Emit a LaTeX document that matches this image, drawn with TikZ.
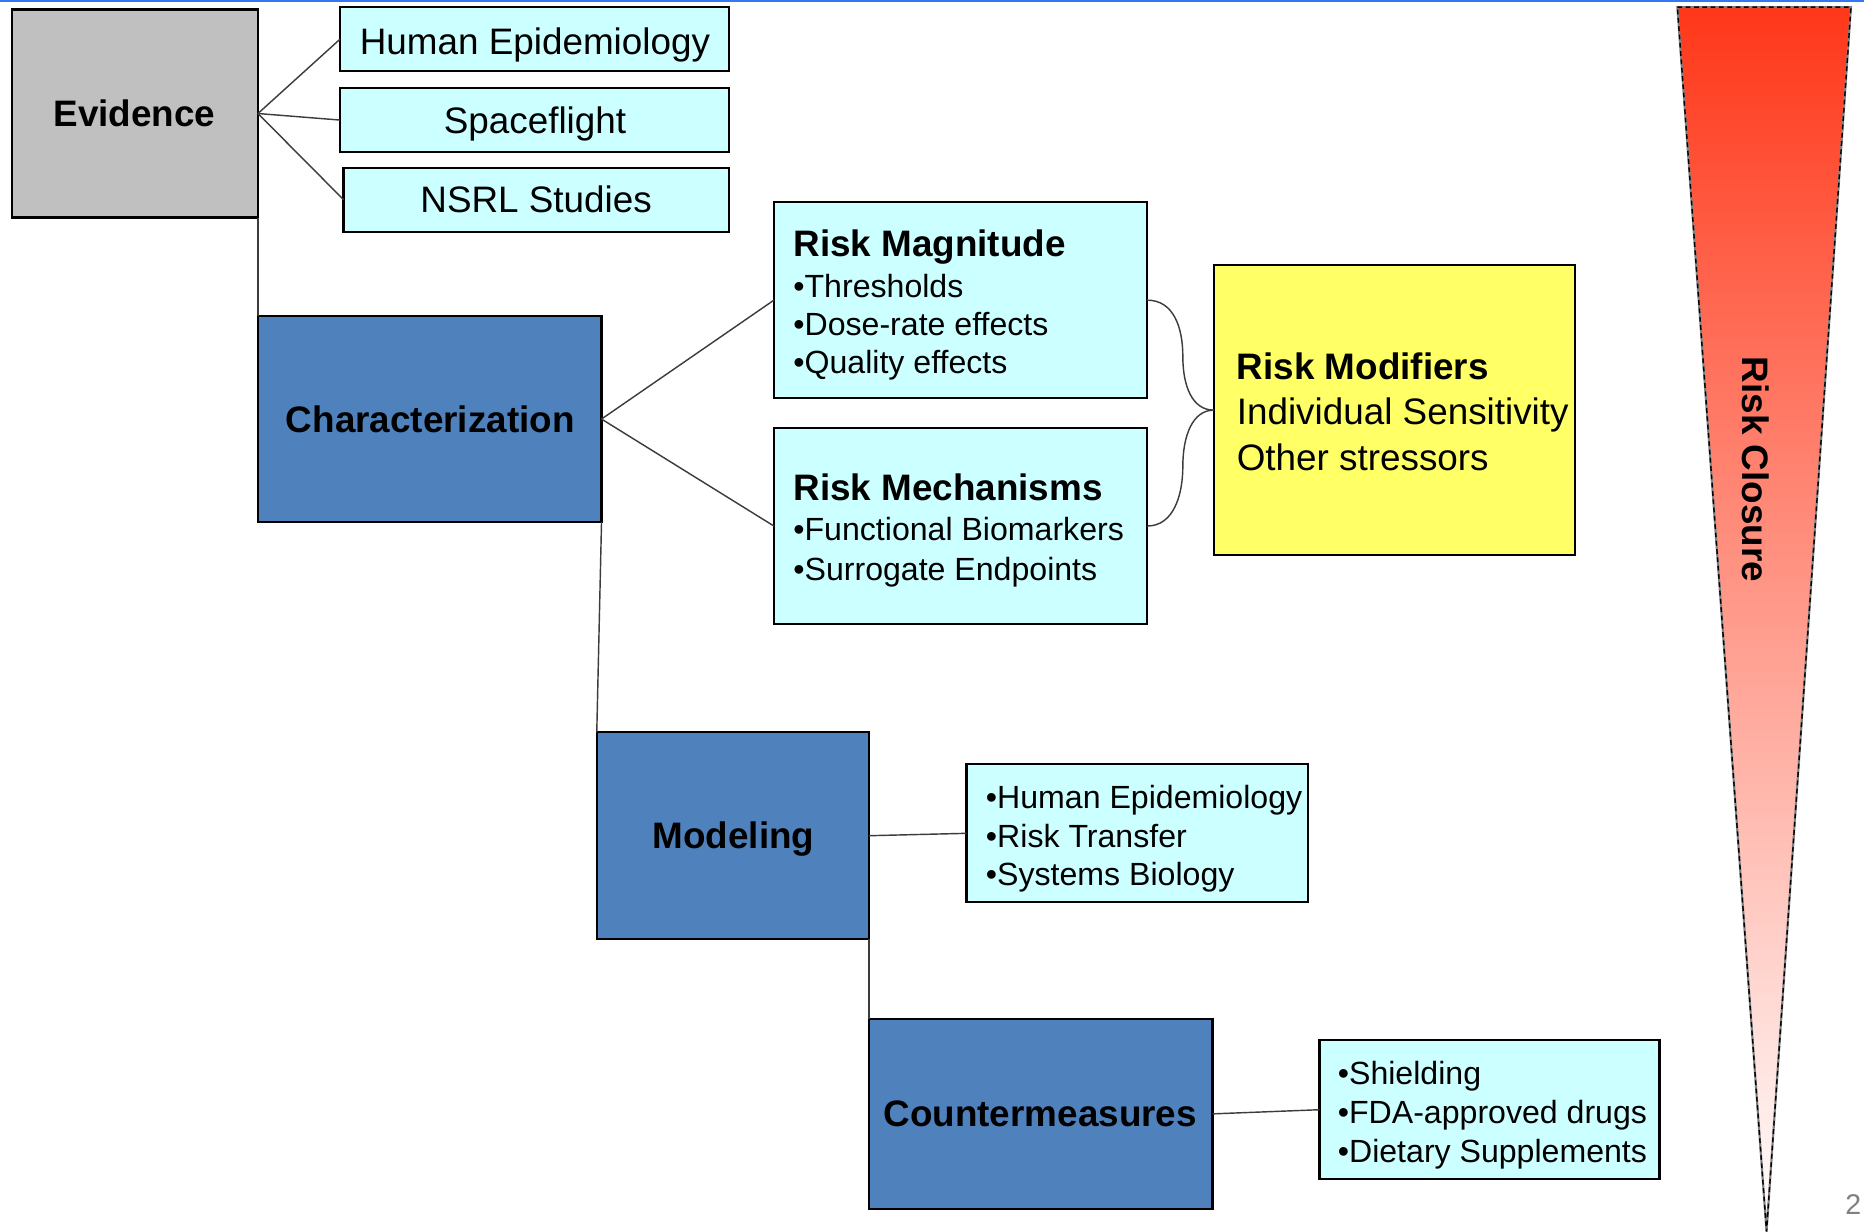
\documentclass[tikz,border=0pt]{standalone}
\usepackage{fontspec}
\setmainfont{Liberation Sans}
\usetikzlibrary{fit}
\definecolor{evgray}{HTML}{C0C0C0}
\definecolor{lcyan}{HTML}{CCFFFF}
\definecolor{sblue}{HTML}{4F81BD}
\definecolor{ylw}{HTML}{FFFF66}
\definecolor{tred}{HTML}{FF3719}
\definecolor{topblue}{HTML}{3278F0}
\definecolor{linegray}{HTML}{3C3C3C}
\begin{document}
\begin{tikzpicture}[x=0.5pt,y=-0.5pt,
  box/.style={draw=black, line width=0.9pt, inner sep=0pt, outer sep=0pt},
  graybox/.style={box, fill=evgray},
  cyanbox/.style={box, fill=lcyan},
  bluebox/.style={box, fill=sblue},
  yellowbox/.style={box, fill=ylw},
  bigt/.style={font=\fontsize{15.5}{19}\selectfont, inner sep=0pt, anchor=base},
  bigb/.style={font=\fontsize{15.5}{19}\selectfont\bfseries, inner sep=0pt, anchor=base},
  bigl/.style={font=\fontsize{15.5}{19}\selectfont, inner sep=0pt, anchor=base west},
  biglb/.style={font=\fontsize{15.5}{19}\selectfont\bfseries, inner sep=0pt, anchor=base west},
  smallt/.style={font=\fontsize{13.5}{16}\selectfont, inner sep=0pt, anchor=base west},
  conn/.style={draw=linegray, line width=0.6pt},
]
\useasboundingbox (0,0) rectangle (1568,1036);
\fill[white] (0,0) rectangle (1568,1036);
\draw[topblue, line width=1pt] (0,1) -- (1568,1);

% Evidence group
\node[graybox, fit={(10,8) (217,183)}] (ev) {};
\node[bigb] (evt) at (113,106) {Evidence};
\node[cyanbox, fit={(286,6) (613,60)}] (he) {};
\node[bigt] (het) at (450,46) {Human Epidemiology};
\node[cyanbox, fit={(286,74) (613,128)}] (sf) {};
\node[bigt] (sft) at (450,112) {Spaceflight};
\node[cyanbox, fit={(289,141) (613,195)}] (ns) {};
\node[bigt] (nst) at (451,179) {NSRL Studies};

% Characterization group
\node[bluebox, fit={(217,266) (506,439)}] (ch) {};
\node[bigb] (cht) at (362,364) {Characterization};
\node[cyanbox, fit={(651,170) (965,335)}] (rmag) {};
\node[biglb] (rmag0) at (667,216) {Risk Magnitude};
\node[smallt] (rmag1) at (667,250) {•Thresholds};
\node[smallt] (rmag2) at (667,282) {•Dose-rate effects};
\node[smallt] (rmag3) at (667,314) {•Quality effects};
\node[cyanbox, fit={(651,360) (965,525)}] (rmech) {};
\node[biglb] (rmech0) at (667,421) {Risk Mechanisms};
\node[smallt] (rmech1) at (667,455) {•Functional Biomarkers};
\node[smallt] (rmech2) at (667,488) {•Surrogate Endpoints};
\node[yellowbox, fit={(1021,223) (1325,467)}] (rmod) {};
\node[biglb] (rmod0) at (1040,319) {Risk Modifiers};
\node[bigl] (rmod1) at (1040,357) {Individual Sensitivity};
\node[bigl] (rmod2) at (1040,396) {Other stressors};

% Modeling group
\node[bluebox, fit={(502,616) (731,790)}] (mo) {};
\node[bigb] (mot) at (617,714) {Modeling};
\node[cyanbox, fit={(813,643) (1100,759)}] (ml) {};
\node[smallt] (ml1) at (829,680) {•Human Epidemiology};
\node[smallt] (ml2) at (829,713) {•Risk Transfer};
\node[smallt] (ml3) at (829,745) {•Systems Biology};

% Countermeasures group
\node[bluebox, fit={(731,857) (1020,1017)}] (cm) {};
\node[bigb] (cmt) at (875,948) {Countermeasures};
\node[cyanbox, fit={(1110,875) (1396,992)}] (cl) {};
\node[smallt] (cl1) at (1125,912) {•Shielding};
\node[smallt] (cl2) at (1125,945) {•FDA-approved drugs};
\node[smallt] (cl3) at (1125,978) {•Dietary Supplements};

% connectors
\draw[conn] (ev.east) -- (he.west);
\draw[conn] (ev.east) -- (sf.west);
\draw[conn] (ev.east) -- (ns.west);
\draw[conn] (ev.south east) -- (ch.north west);
\draw[conn] (ch.east) -- (rmag.west);
\draw[conn] (ch.east) -- (rmech.west);
\draw[conn] (ch.south east) -- (mo.north west);
\draw[conn] (mo.east) -- (ml.west);
\draw[conn] (mo.south east) -- (cm.north west);
\draw[conn] (cm.east) -- (cl.west);
\coordinate (bu) at (995,300);
\coordinate (bl) at (995,392);
\draw[conn] (rmag.east) .. controls +(22,0) and +(0,-25) .. (bu)
  .. controls +(0,25) and +(-18,0) .. (rmod.west);
\draw[conn] (rmech.east) .. controls +(22,0) and +(0,25) .. (bl)
  .. controls +(0,-25) and +(-18,0) .. (rmod.west);

% Risk closure wedge
\shade[top color=tred, bottom color=white] (1411,6) -- (1557,6) -- (1486,1036) -- cycle;
\draw[gray, line width=0.9pt] (1411,6) -- (1557,6) -- (1486,1036) -- cycle;
\draw[black, line width=0.6pt, dash pattern=on 2pt off 1.5pt] (1411,6) -- (1557,6) -- (1486,1036) -- cycle;
\node[font=\fontsize{15.5}{19}\selectfont\bfseries, inner sep=0pt, rotate=-90] (rc) at (1477,395) {Risk Closure};

\node[font=\fontsize{12}{14}\selectfont, text=gray, anchor=base east, inner sep=0pt] (pg) at (1566,1022) {2};
\end{tikzpicture}
\end{document}
